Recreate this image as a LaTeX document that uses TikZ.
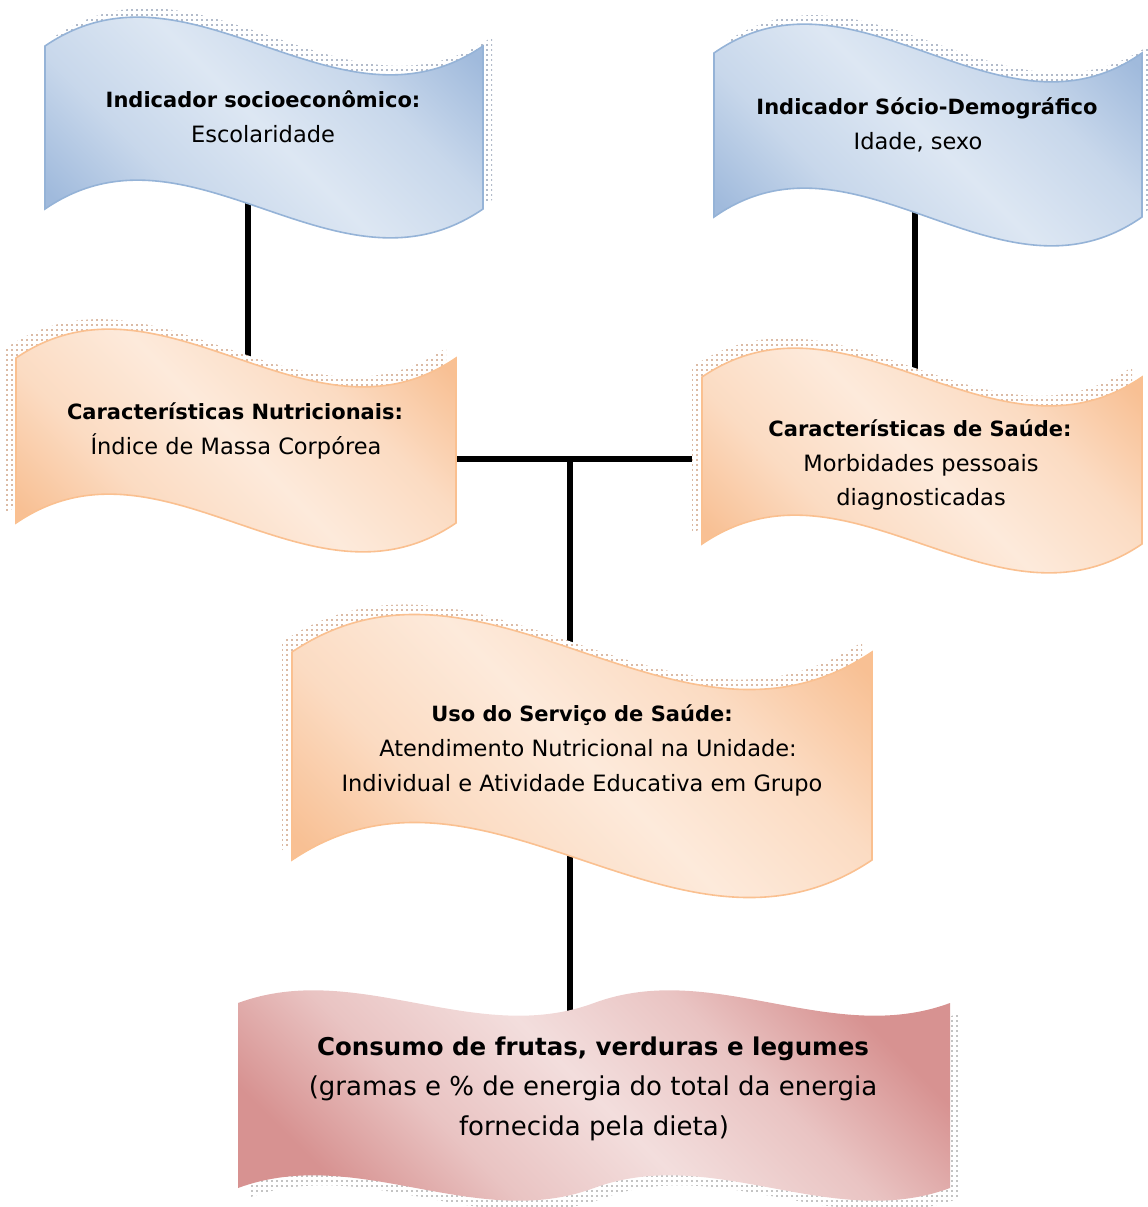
\documentclass[tikz,border=0pt]{standalone}
\usepackage{fontspec}
\setmainfont{DejaVu Sans}
\usetikzlibrary{patterns.meta}

\definecolor{blueline}{RGB}{149,179,215}
\definecolor{bluedark}{RGB}{160,186,220}
\definecolor{bluelight}{RGB}{221,231,243}
\colorlet{bluemid}{bluelight!65!bluedark}
\definecolor{bluedot}{RGB}{75,95,130}
\definecolor{orline}{RGB}{250,192,144}
\definecolor{ordark}{RGB}{248,192,148}
\definecolor{orlight}{RGB}{253,234,219}
\colorlet{ormid}{orlight!65!ordark}
\definecolor{ordot}{RGB}{170,95,45}
\definecolor{pkdark}{RGB}{215,146,145}
\definecolor{pklight}{RGB}{243,222,221}
\colorlet{pkmid}{pklight!65!pkdark}
\definecolor{pkdot}{RGB}{115,115,115}

\pgfdeclareverticalshading{bluesh}{100bp}{color(0bp)=(bluedark); color(25bp)=(bluedark); color(37bp)=(bluemid); color(50bp)=(bluelight); color(63bp)=(bluemid); color(75bp)=(bluedark); color(100bp)=(bluedark)}
\pgfdeclareverticalshading{orsh}{100bp}{color(0bp)=(ordark); color(25bp)=(ordark); color(37bp)=(ormid); color(50bp)=(orlight); color(63bp)=(ormid); color(75bp)=(ordark); color(100bp)=(ordark)}
\pgfdeclareverticalshading{pksh}{100bp}{color(0bp)=(pkdark); color(25bp)=(pkdark); color(37bp)=(pkmid); color(50bp)=(pklight); color(63bp)=(pkmid); color(75bp)=(pkdark); color(100bp)=(pkdark)}

\tikzdeclarepattern{
  name=shdots,
  type=uncolored,
  bounding box={(0pt,0pt) and (5pt,5pt)},
  tile size={(5pt,5pt)},
  code={\fill (1.5pt,1.5pt) rectangle (3.1pt,3.1pt);}
}

% #1 options, #2 left x, #3 right x, #4 top base y, #5 bottom base y, #6 control offset
\newcommand\wavebanner[6]{%
  \path[#1] (#2,#4) .. controls ({#2+(#3-#2)/3},{#4-#6}) and ({#2+2*(#3-#2)/3},{#4+#6}) .. (#3,#4)
    -- (#3,#5) .. controls ({#2+2*(#3-#2)/3},{#5+#6}) and ({#2+(#3-#2)/3},{#5-#6}) .. (#2,#5) -- cycle;}
\newcommand\dwavebanner[6]{%
  \path[#1] (#2,#4) .. controls ({#2+(#3-#2)/6},{#4-#6}) and ({#2+(#3-#2)/3},{#4+#6}) .. ({(#2+#3)/2},#4)
    .. controls ({#2+2*(#3-#2)/3},{#4-#6}) and ({#2+5*(#3-#2)/6},{#4+#6}) .. (#3,#4)
    -- (#3,#5) .. controls ({#2+5*(#3-#2)/6},{#5+#6}) and ({#2+2*(#3-#2)/3},{#5-#6}) .. ({(#2+#3)/2},#5)
    .. controls ({#2+(#3-#2)/3},{#5+#6}) and ({#2+(#3-#2)/6},{#5-#6}) .. (#2,#5) -- cycle;}

\tikzset{
  conn/.style={draw=black, line width=6pt},
  lbl/.style={anchor=base, text=black, inner sep=0pt},
  hd/.style={lbl, font=\fontsize{21}{25}\selectfont\bfseries},
  tx/.style={lbl, font=\fontsize{22.5}{27}\selectfont},
  Hd/.style={lbl, font=\fontsize{24.5}{29}\selectfont\bfseries},
  Tx/.style={lbl, font=\fontsize{26}{31}\selectfont},
  blueshadow/.style={preaction={fill=white}, pattern=shdots, pattern color=bluedot, shift={(9,-9)}},
  orshadow/.style={preaction={fill=white}, pattern=shdots, pattern color=ordot, shift={(-10,-10)}},
  pkshadow/.style={preaction={fill=white}, pattern=shdots, pattern color=pkdot, shift={(10,10)}},
  bluefill/.style={draw=blueline, line width=1.6pt, shading=bluesh, shading angle=-45},
  orfill/.style={draw=orline, line width=1.6pt, shading=orsh, shading angle=-45},
  pkfill/.style={shading=pksh, shading angle=-45},
}

\begin{document}
\begin{tikzpicture}[x=1pt, y=-1pt]
\useasboundingbox (0,0) rectangle (1148,1207);

% connection points
\coordinate (s1) at (248,150);
\coordinate (n1) at (248,420);
\coordinate (d1) at (915,150);
\coordinate (h1) at (915,420);
\coordinate (nR) at (440,459);
\coordinate (hL) at (720,459);
\coordinate (J) at (570,459);
\coordinate (u1) at (570,700);
\coordinate (u2) at (570,820);
\coordinate (c1) at (570,1050);

% connectors (behind the banners)
\draw[conn] (s1) -- (n1);
\draw[conn] (d1) -- (h1);
\draw[conn] (nR) -- (hL);
\draw[conn] (J) -- (u1);
\draw[conn] (u2) -- (c1);

% blue banners
\wavebanner{blueshadow}{45}{483}{46}{209}{100}
\wavebanner{bluefill}{45}{483}{46}{209}{100}
\node[hd] (socioA) at (263,107) {Indicador socioeconômico:};
\node[tx] (socioB) at (263,142) {Escolaridade};

\wavebanner{blueshadow}{714}{1142}{53}{217}{100}
\wavebanner{bluefill}{714}{1142}{53}{217}{100}
\node[hd] (demoA) at (927,114) {Indicador Sócio-Demográfico};
\node[tx] (demoB) at (918,149) {Idade, sexo};

% orange banners
\wavebanner{orshadow}{16}{456}{358}{523}{100}
\wavebanner{orfill}{16}{456}{358}{523}{100}
\node[hd] (nutriA) at (235,419) {Características Nutricionais:};
\node[tx] (nutriB) at (236,454) {Índice de Massa Corpórea};

\wavebanner{orshadow}{702}{1142}{377}{544}{100}
\wavebanner{orfill}{702}{1142}{377}{544}{100}
\node[hd] (saudeA) at (920,436) {Características de Saúde:};
\node[tx] (saudeB) at (921,471) {Morbidades pessoais};
\node[tx] (saudeC) at (921,505) {diagnosticadas};

\wavebanner{orshadow}{292}{872}{652}{860}{130}
\wavebanner{orfill}{292}{872}{652}{860}{130}
\node[hd] (usoA) at (582,721) {Uso do Serviço de Saúde:};
\node[tx] (usoB) at (588,756) {Atendimento Nutricional na Unidade:};
\node[tx] (usoC) at (582,791) {Individual e Atividade Educativa em Grupo};

% pink double wave
\dwavebanner{pkshadow}{238}{950}{1003}{1188}{44}
\dwavebanner{pkfill}{238}{950}{1003}{1188}{44}
\node[Hd] (consA) at (593,1055) {Consumo de frutas, verduras e legumes};
\node[Tx] (consB) at (593,1095) {(gramas e \% de energia do total da energia};
\node[Tx] (consC) at (594,1135) {fornecida pela dieta)};
\end{tikzpicture}
\end{document}
